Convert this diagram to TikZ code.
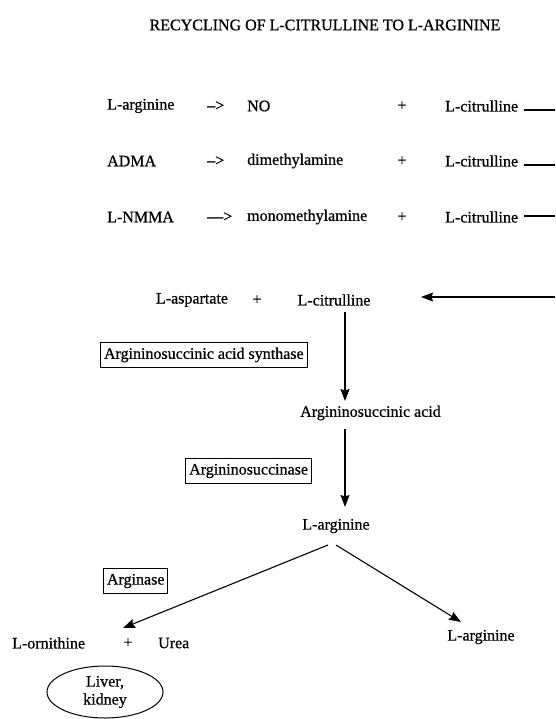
\documentclass[tikz,border=0pt]{standalone}
\usepackage{fontspec}
\setmainfont{Liberation Serif}[FakeBold=0.7]
\usetikzlibrary{arrows.meta,shapes.geometric}
\begin{document}
\begin{tikzpicture}[x=1pt,y=-1pt,
  txt/.style={inner sep=1pt,font=\fontsize{16}{19}\selectfont},
  enz/.style={draw,line width=1pt,inner xsep=3.5pt,inner ysep=5pt,font=\fontsize{16}{19}\selectfont},
  conn/.style={line width=1.1pt},
  arr/.style={line width=1.1pt,-{Stealth[length=12pt,width=9pt,inset=1.5pt]}}]
\useasboundingbox (0,0) rectangle (555,719);
\node[txt] (title) at (325,25) {RECYCLING OF L-CITRULLINE TO L-ARGININE};
% row 1
\node[txt,anchor=west] (r1a) at (106,106) {L-arginine};
\node[txt,anchor=west] (r1b) at (206,106) {-->};
\node[txt,anchor=west] (r1c) at (246,106) {NO};
\node[txt] (r1d) at (402,106) {+};
\node[txt,anchor=west] (r1e) at (444,106) {L-citrulline};
\coordinate (e1) at (555,110);
% row 2
\node[txt,anchor=west] (r2a) at (106,161) {ADMA};
\node[txt,anchor=west] (r2b) at (206,161) {-->};
\node[txt,anchor=west] (r2c) at (246,161) {dimethylamine};
\node[txt] (r2d) at (402,161) {+};
\node[txt,anchor=west] (r2e) at (444,161) {L-citrulline};
\coordinate (e2) at (555,165);
% row 3
\node[txt,anchor=west] (r3a) at (106,217) {L-NMMA};
\node[txt,anchor=west] (r3b) at (206,217) {--->};
\node[txt,anchor=west] (r3c) at (246,217) {monomethylamine};
\node[txt] (r3d) at (402,217) {+};
\node[txt,anchor=west] (r3e) at (444,217) {L-citrulline};
\coordinate (e3) at (555,216);
\draw[conn] ([xshift=5pt]r1e.east |- e1) -- (e1);
\draw[conn] ([xshift=5pt]r2e.east |- e2) -- (e2);
\draw[conn] ([xshift=5pt]r3e.east |- e3) -- (e3);
% recycling
\node[txt] (asp) at (192,300) {L-aspartate};
\node[txt] (plus1) at (257,300) {+};
\node[txt] (cit) at (334,300) {L-citrulline};
\coordinate (e4) at (555,297);
\coordinate (a4) at (421,297);
\draw[arr] (e4) -- (a4);
\node[enz,anchor=west] (ass) at (100,355) {Argininosuccinic acid synthase};
\node[txt,anchor=west] (asa) at (299,413) {Argininosuccinic acid};
\coordinate (v1s) at (345,312);
\coordinate (v1e) at (345,401);
\draw[arr] (v1s) -- (v1e);
\node[enz,anchor=east] (asl) at (312,471) {Argininosuccinase};
\coordinate (v2s) at (345,429);
\coordinate (v2e) at (345,507);
\draw[arr] (v2s) -- (v2e);
\node[txt] (arg) at (336,526) {L-arginine};
\node[enz,anchor=west] (arginase) at (103,581) {Arginase};
\node[txt,anchor=west] (orn) at (11,643) {L-ornithine};
\node[txt] (plus2) at (128,643) {+};
\node[txt,anchor=west] (urea) at (157,643) {Urea};
\node[txt] (arg2) at (481,637) {L-arginine};
\coordinate (s1) at (328,545);
\coordinate (s2) at (336,545);
\coordinate (t1) at (123,628);
\coordinate (t2) at (461,622);
\draw[arr] (s1) -- (t1);
\draw[arr] (s2) -- (t2);
\node[draw,ellipse,line width=1pt,minimum width=116pt,minimum height=52pt,inner sep=0pt,align=center,font=\fontsize{16}{18}\selectfont] (liver) at (105,692) {Liver,\\kidney};
\end{tikzpicture}
\end{document}
